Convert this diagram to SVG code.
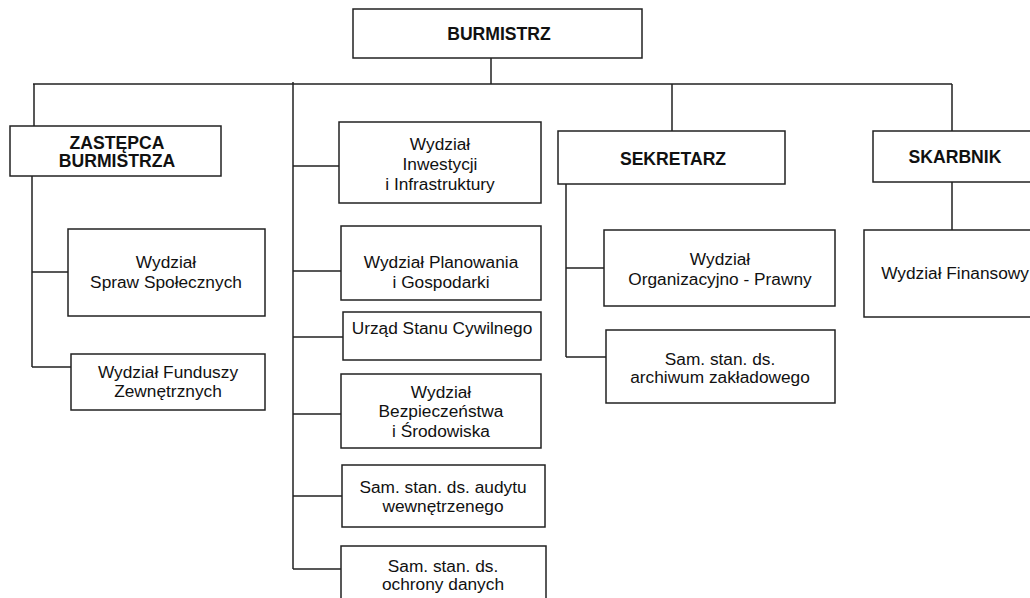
<svg xmlns="http://www.w3.org/2000/svg" width="1030" height="598" viewBox="0 0 1030 598">
<style>
.box{fill:#fff;stroke:#222;stroke-width:1.5}
.ln{stroke:#222;stroke-width:1.5;fill:none}
.t{font-family:"Liberation Sans",Arial,sans-serif;font-size:17.3px;fill:#111;text-anchor:middle}
.b{font-weight:bold;font-size:17.6px}
</style>
<rect width="1030" height="598" fill="#fff"/>
<g id="connectors">
<path class="ln" d="M491,58 V84 M33,84 H952 M34,84 V126 M672,84 V131 M952,84 V131 M952,182 V230"/>
<path class="ln" d="M32,176 V367 M32,272 H68 M32,367 H71"/>
<path class="ln" d="M293,82 V569 M293,166 H339 M293,271 H341 M293,337 H343 M293,414 H341 M293,496 H342 M293,569 H341"/>
<path class="ln" d="M566,184 V357 M566,268 H604 M566,357 H606"/>
</g>
<g id="burmistrz"><rect class="box" x="353" y="9" width="289" height="49"/><text class="t b" x="499" y="40">BURMISTRZ</text></g>
<g id="zastepca"><rect class="box" x="10" y="126" width="211" height="50"/><text class="t b" x="117" y="149">ZASTĘPCA</text><text class="t b" x="117" y="167">BURMISTRZA</text></g>
<g id="sekretarz"><rect class="box" x="558" y="131" width="227" height="53"/><text class="t b" x="673" y="165">SEKRETARZ</text></g>
<g id="skarbnik"><rect class="box" x="873" y="131" width="164" height="51"/><text class="t b" x="955" y="163">SKARBNIK</text></g>
<g id="spraw"><rect class="box" x="68" y="229" width="197" height="87"/><text class="t" x="166" y="268">Wydział</text><text class="t" x="166" y="288">Spraw Społecznych</text></g>
<g id="fundusze"><rect class="box" x="71" y="354" width="194" height="56"/><text class="t" x="168" y="378">Wydział Funduszy</text><text class="t" x="168" y="397">Zewnętrznych</text></g>
<g id="inwestycji"><rect class="box" x="339" y="122" width="202" height="81"/><text class="t" x="440" y="150">Wydział</text><text class="t" x="440" y="170">Inwestycji</text><text class="t" x="440" y="190">i Infrastruktury</text></g>
<g id="planowania"><rect class="box" x="341" y="226" width="200" height="74"/><text class="t" x="441" y="268">Wydział Planowania</text><text class="t" x="441" y="288">i Gospodarki</text></g>
<g id="usc"><rect class="box" x="343" y="312" width="198" height="48"/><text class="t" x="442" y="334">Urząd Stanu Cywilnego</text></g>
<g id="bezpieczenstwa"><rect class="box" x="341" y="374" width="200" height="74"/><text class="t" x="441" y="398">Wydział</text><text class="t" x="441" y="417">Bezpieczeństwa</text><text class="t" x="441" y="437">i Środowiska</text></g>
<g id="audytu"><rect class="box" x="342" y="465" width="203" height="62"/><text class="t" x="443" y="493">Sam. stan. ds. audytu</text><text class="t" x="443" y="512">wewnętrzenego</text></g>
<g id="ochrona"><rect class="box" x="341" y="546" width="205" height="60"/><text class="t" x="443" y="572">Sam. stan. ds.</text><text class="t" x="443" y="590">ochrony danych</text></g>
<g id="organizacyjno"><rect class="box" x="604" y="230" width="231" height="76"/><text class="t" x="720" y="265">Wydział</text><text class="t" x="720" y="285">Organizacyjno - Prawny</text></g>
<g id="archiwum"><rect class="box" x="606" y="330" width="229" height="73"/><text class="t" x="720" y="365">Sam. stan. ds.</text><text class="t" x="720" y="383">archiwum zakładowego</text></g>
<g id="finansowy"><rect class="box" x="864" y="230" width="182" height="87"/><text class="t" x="955" y="279">Wydział Finansowy</text></g>
</svg>
